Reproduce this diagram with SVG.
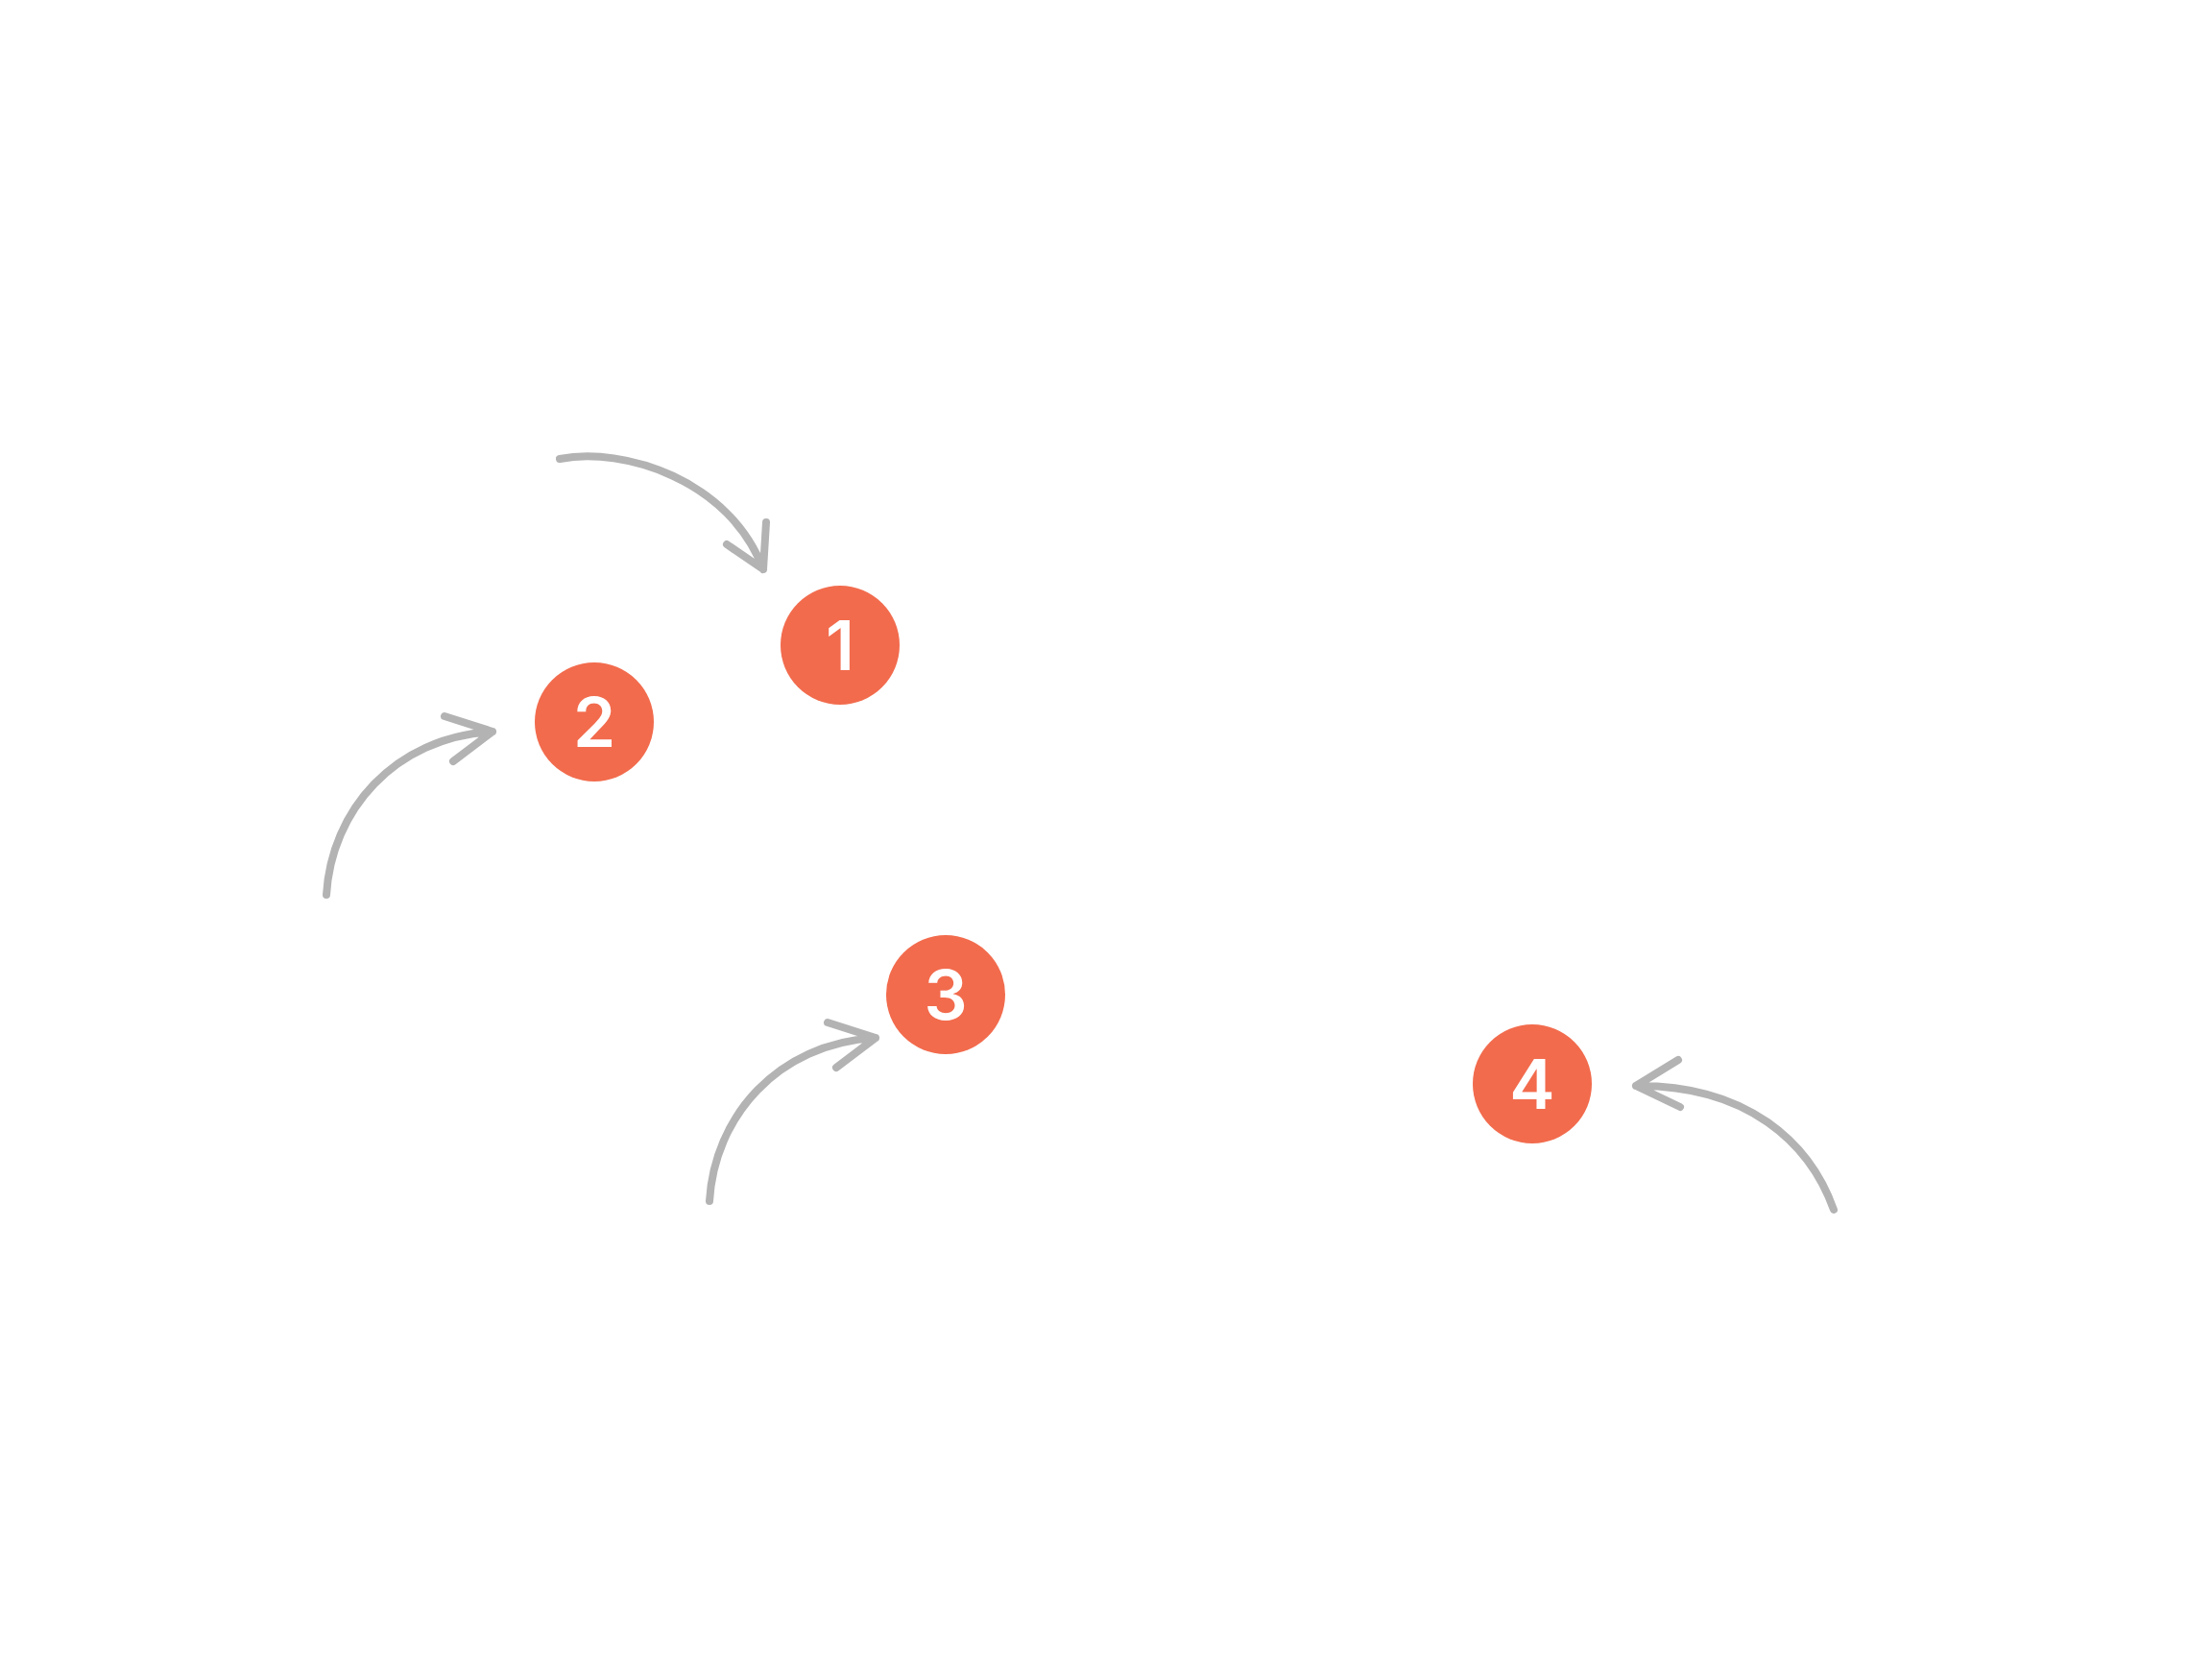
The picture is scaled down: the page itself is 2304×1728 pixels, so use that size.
<svg xmlns="http://www.w3.org/2000/svg" width="2304" height="1728" viewBox="0 0 2304 1728">
<style>
.arrow{fill:none;stroke:#b3b3b3;stroke-width:8;stroke-linecap:round;stroke-linejoin:round}
.badge{fill:#f26b4d}
.num{fill:#ffffff;font-family:Inter,"Open Sans","DejaVu Sans",sans-serif;font-weight:600;font-size:71px;text-anchor:middle}
</style>
<rect width="2304" height="1728" fill="#ffffff"/>
<g id="connectors">
<path class="arrow" d="M583,478 C650,465 760,500 795,593 M798,544 L795,593 L757,567"/>
<path class="arrow" d="M340,932 C345,845 410,768 513,762 M463,746 L513,762 L472,793"/>
<path class="arrow" d="M739,1251 C744,1164 809,1087 912,1081 M862,1065 L912,1081 L871,1112"/>
<path class="arrow" d="M1910,1260 C1885,1190 1820,1130 1704,1131 M1748,1104 L1704,1131 L1750,1153"/>
</g>
<g id="node1"><circle class="badge" cx="875" cy="672" r="62"/><text class="num" x="875" y="698">1</text></g>
<g id="node2"><circle class="badge" cx="619" cy="752" r="62"/><text class="num" x="619" y="778">2</text></g>
<g id="node3"><circle class="badge" cx="985" cy="1036" r="62"/><text class="num" x="985" y="1062">3</text></g>
<g id="node4"><circle class="badge" cx="1596" cy="1129" r="62"/><text class="num" x="1596" y="1155">4</text></g>
</svg>
